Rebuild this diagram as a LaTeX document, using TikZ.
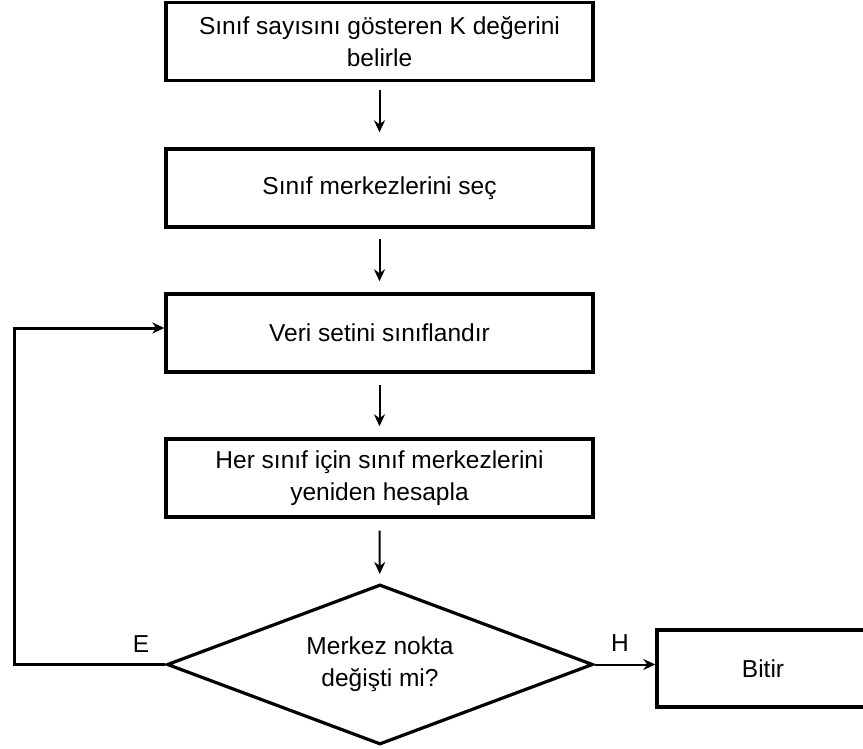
\documentclass[tikz,border=0pt]{standalone}
\usepackage{fontspec}
\setmainfont{Liberation Sans}
\usetikzlibrary{shapes.geometric,arrows.meta}
\begin{document}
\begin{tikzpicture}[x=1pt,y=-1pt,
  stepbox/.style={draw, line width=3.4pt, minimum width=427pt, minimum height=78pt,
    inner sep=0pt, align=center, font=\fontsize{24.5}{32}\selectfont},
  decision/.style={draw, line width=3.2pt, shape=diamond, aspect=2.66,
    minimum width=426pt, minimum height=160pt, inner sep=0pt, align=center,
    font=\fontsize{24.5}{32}\selectfont},
  flow/.style={line width=2pt, -{Stealth[length=12pt,width=11pt]}},
  lbl/.style={font=\fontsize{24.5}{28}\selectfont, inner sep=0pt}]
\useasboundingbox (0,0) rectangle (863,749);

\node[stepbox] (b1) at (379.5,41.5) {Sınıf sayısını gösteren K değerini\\belirle};
\node[stepbox] (b2) at (379.5,188) {Sınıf merkezlerini seç};
\node[stepbox] (b3) at (379.5,333) {Veri setini sınıflandır};
\node[stepbox] (b4) at (379.5,478) {Her sınıf için sınıf merkezlerini\\yeniden hesapla};
\node[decision] (d) at (380,664.5) {Merkez nokta\\değişti mi?};
\node[stepbox, minimum width=212pt, minimum height=77pt] (end) at (763,668.5) {Bitir};

% vertical flow between the steps
\draw[flow, shorten <=8pt, shorten >=15pt] (b1) -- (b2);
\draw[flow, shorten <=10pt, shorten >=11pt] (b2) -- (b3);
\draw[flow, shorten <=11pt, shorten >=11pt] (b3) -- (b4);
\draw[flow, shorten <=12pt, shorten >=9pt] (b4) -- (d);

% exits of the decision
\coordinate (loop) at (14,664.5);
\draw[flow, line width=3pt] (d.west) -- (loop) |- ([yshift=5pt]b3.west);
\draw[flow] (d.east) -- (d.east -| end.west);

\node[lbl] (e) at (141,644) {E};
\node[lbl] (h) at (620,643) {H};
\end{tikzpicture}
\end{document}
